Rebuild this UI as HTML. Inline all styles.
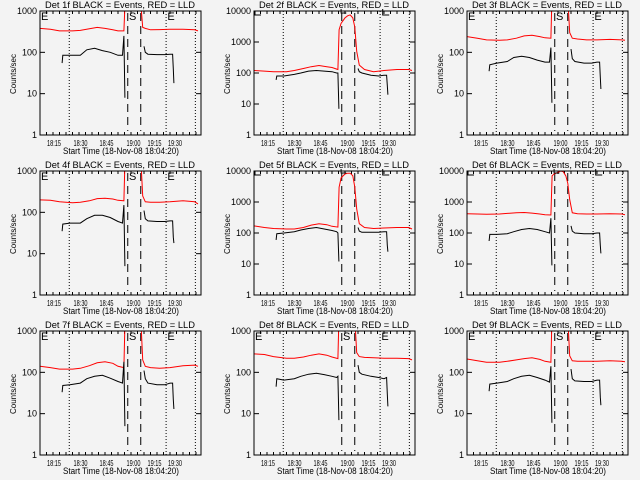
<!DOCTYPE html>
<html><head><meta charset="utf-8"><style>
html,body{margin:0;padding:0;background:#f3f3f3;}
svg{display:block;font-family:"Liberation Sans",sans-serif;}
</style></head><body>
<svg id="chart" width="640" height="480" viewBox="0 0 640 480" xmlns="http://www.w3.org/2000/svg">
<rect x="0" y="0" width="640" height="480" fill="#f3f3f3"/>
</svg>
<script>
const panelNames = ["1f","2f","3f","4f","5f","6f","7f","8f","9f"];
const panelDecades = [3,4,3,3,4,4,3,3,3];
const xTickLabels = ["18:15","18:30","18:45","19:00","19:15","19:30"];
const xTickTimes = [10.8,31.2,51.2,71.9,88.1,103.8];
const yTickLabelsA = ["1","10","100","1000"];
const yTickLabelsB = ["1","10","100","1000","10000"];
const dottedTimes = [22.5,97,119.5];
const dashedTimes = [67.5,77.5];
const redT = [0,8,15,25,31,38,44,50,56,60,64.5,65.5,67,70,72,74,76,77.5,79,81,85,92,100,110,119,121.5];
const blackT = [17,17.5,23,31,36,42,48,54,60,63.5,64.5,65.3,70,80,81,83,90,96,100,102,102.5,103];
const red1 = [380,360,330,330,340,370,400,380,350,330,330,2000,5000,6000,6500,6000,4000,1500,400,380,350,355,360,360,350,330];
const red2 = [120,115,110,110,120,140,160,175,160,150,130,2500,4000,6000,7000,7500,6000,3000,500,180,130,110,120,130,130,120];
const red3 = [240,220,200,195,200,220,250,260,240,225,220,3000,5000,6000,7000,6000,5000,2000,300,220,210,200,200,205,200,195];
const red4 = [200,195,180,170,175,190,215,220,210,195,190,3000,5000,6000,7000,6000,5000,2000,250,180,175,175,180,190,180,160];
const red5 = [170,150,140,135,135,150,180,200,185,165,155,3000,6000,8000,8500,8500,7000,3000,600,200,150,140,145,150,150,135];
const red6 = [420,410,400,410,430,450,460,440,410,390,380,7000,8000,9000,10000,9500,7000,4000,1200,450,420,410,410,420,410,390];
const red7 = [140,130,120,120,125,145,170,180,165,140,130,3000,5000,6000,7000,6000,5000,2000,200,140,130,125,130,145,150,140];
const red8 = [280,270,240,220,220,235,260,280,260,235,215,3000,5000,6000,7000,6000,5000,2000,300,240,230,225,220,220,215,200];
const red9 = [210,190,175,175,185,200,215,225,205,185,175,3000,5000,6000,7000,6000,5000,2000,250,190,185,185,185,190,185,180];
const black1 = [55,85,85,85,115,125,110,100,85,85,250,8,null,140,100,90,88,88,90,90,40,18];
const black2 = [60,80,80,90,100,115,120,115,110,100,100,7,null,140,110,100,85,80,85,85,40,20];
const black3 = [35,50,55,60,75,80,75,65,58,58,130,6,null,120,70,60,55,55,58,58,25,13];
const black4 = [35,52,55,55,70,85,85,75,60,55,150,5,null,110,70,62,60,60,62,62,25,18];
const black5 = [60,95,100,110,125,140,150,135,120,110,100,12,null,150,115,105,105,105,110,110,40,25];
const black6 = [55,90,90,95,110,130,140,130,110,100,300,9,null,170,115,100,95,95,100,100,40,22];
const black7 = [33,48,50,55,70,80,85,72,60,55,180,5,null,110,70,55,50,50,55,55,22,13];
const black8 = [45,70,65,70,80,90,95,88,80,75,80,7,null,150,100,90,80,75,70,75,30,15];
const black9 = [35,52,55,60,70,80,85,75,65,58,140,6,null,120,70,62,60,60,65,65,25,16];
const redSeries = [red1,red2,red3,red4,red5,red6,red7,red8,red9];
const blackSeries = [black1,black2,black3,black4,black5,black6,black7,black8,black9];

const NS = "http://www.w3.org/2000/svg";
const svg = document.getElementById("chart");
const lefts = [40,254,467];
const W = 161, H = 124, PXPERMIN = 1.3;
function mk(tag, attrs, parent){const e=document.createElementNS(NS,tag);for(const k in attrs)e.setAttribute(k,attrs[k]);(parent||svg).appendChild(e);return e;}

for (let i=0;i<9;i++){
  const col=i%3,row=Math.floor(i/3);
  const L=lefts[col],T=11+160*row,dec=panelDecades[i];
  const xs=t=>L+t*PXPERMIN;
  const ys=v=>T+(dec-Math.log10(v))*H/dec;
  const g=mk("g",{});
  
  
  const cp=mk("clipPath",{id:"cp"+i},g);
  mk("rect",{x:L,y:T,width:W,height:H},cp);
  const tt=mk("text",{x:L+80,y:T-3,"text-anchor":"middle","font-size":"9.5",textLength:"150",lengthAdjust:"spacingAndGlyphs"},g);
  tt.textContent="Det "+panelNames[i]+" BLACK = Events, RED = LLD";
  
  
  const yt=mk("text",{x:0,y:0,"text-anchor":"middle","font-size":"8",transform:"translate("+(L-24)+","+(T+63)+") rotate(-90)"},g);
  yt.textContent="Counts/sec";
  
  
  const xt=mk("text",{x:L+81,y:T+143,"text-anchor":"middle","font-size":"9",textLength:"116",lengthAdjust:"spacingAndGlyphs"},g);
  xt.textContent="Start Time (18-Nov-08 18:04:20)";
  
  
  const ylabs=dec===3?yTickLabelsA:yTickLabelsB;
  ylabs.forEach((lab,k)=>{
    const v=Math.pow(10,k),y=ys(v);
    mk("line",{x1:L,x2:L+5,y1:y,y2:y,stroke:"#000","stroke-width":1},g);
    mk("line",{x1:L+W-5,x2:L+W,y1:y,y2:y,stroke:"#000","stroke-width":1},g);
    const tx=mk("text",{x:L-3,y:y+3,"text-anchor":"end","font-size":"9"},g);
    tx.textContent=lab;
    
    
  });
  for(let t=5;t<W/PXPERMIN;t+=5){
    const x=xs(t);
    mk("line",{x1:x,x2:x,y1:T+H,y2:T+H-3,stroke:"#000","stroke-width":1},g);
    mk("line",{x1:x,x2:x,y1:T,y2:T+3,stroke:"#000","stroke-width":1},g);
  }
  xTickLabels.forEach((lab,k)=>{
    const tx=mk("text",{x:xs(xTickTimes[k]),y:T+135,"text-anchor":"middle","font-size":"8.5",textLength:"14",lengthAdjust:"spacingAndGlyphs"},g);
    tx.textContent=lab;
    
    
  });
  dottedTimes.forEach(t=>{const l=mk("line",{x1:xs(t),x2:xs(t),y1:T,y2:T+H,stroke:"#000","stroke-width":1,"stroke-dasharray":"1,2"},g);
    });
  dashedTimes.forEach(t=>{const l=mk("line",{x1:xs(t),x2:xs(t),y1:T+2,y2:T+H-4,stroke:"#000","stroke-width":1,"stroke-dasharray":"8,5"},g);
    });
  const dg=mk("g",{"clip-path":"url(#cp"+i+")"},g);
  const rd=redSeries[i].map((v,k)=>(k?"L":"M")+xs(redT[k]).toFixed(1)+","+ys(v).toFixed(1)).join("");
  const rp=mk("path",{d:rd,fill:"none",stroke:"#ff0000","stroke-width":1},dg);
  
  
  let bd="",pen=false;
  blackSeries[i].forEach((v,k)=>{ if(v===null){pen=false;return;} bd+=(pen?"L":"M")+xs(blackT[k]).toFixed(1)+","+ys(v).toFixed(1); pen=true;});
  const bp=mk("path",{d:bd,fill:"none",stroke:"#000","stroke-width":1},dg);
  
  
  if(dec===3){
    [[L+1,"E"],[xs(68.5),"S"],[xs(98),"E"]].forEach(m=>{
      const e=mk("text",{x:m[0],y:T+9,"font-size":"11"},g);e.textContent=m[1];
      });
  } else {
    const p1=mk("path",{d:"M"+(L+1)+","+(T)+"V"+(T+4)+"H"+(L+7),fill:"none",stroke:"#000"},g);
    
    const p2=mk("path",{d:"M"+(xs(67))+","+(T-2)+"V"+(T+2)+"H"+(xs(71)),fill:"none",stroke:"#000"},g);
    
    const p3=mk("path",{d:"M"+(xs(99))+","+(T-2)+"V"+(T+4)+"H"+(xs(104)),fill:"none",stroke:"#000"},g);
    
  }
  const fr=mk("rect",{x:L,y:T,width:W,height:H,fill:"none",stroke:"#000","stroke-width":1},g);
  
  
}
</script>
</body></html>
